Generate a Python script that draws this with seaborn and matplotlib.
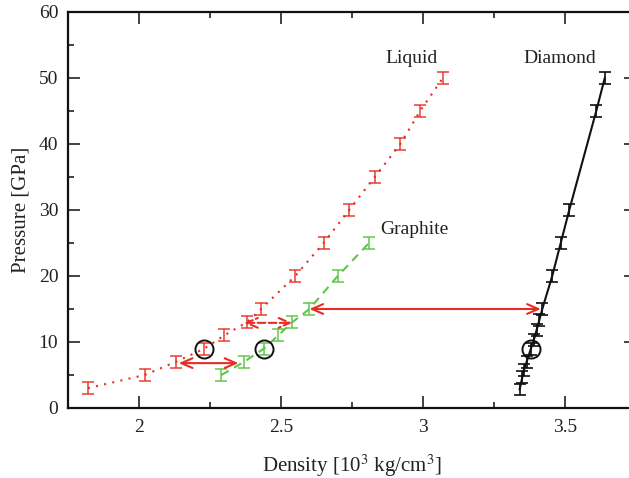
import matplotlib
matplotlib.use("Agg")
import matplotlib.pyplot as plt
import seaborn as sns
import pandas as pd
from matplotlib.ticker import MultipleLocator

# ---- data ----
liquid_density = [1.82, 2.02, 2.13, 2.23, 2.30, 2.38, 2.43, 2.55, 2.65, 2.74, 2.83, 2.92, 2.99, 3.07]
liquid_pressure = [3, 5, 7, 9, 11, 13, 15, 20, 25, 30, 35, 40, 45, 50]

graphite_density = [2.29, 2.37, 2.44, 2.49, 2.54, 2.60, 2.70, 2.81]
graphite_pressure = [5, 7, 9, 11, 13, 15, 20, 25]

diamond_density = [3.34, 3.35, 3.355, 3.365, 3.38, 3.39, 3.40, 3.41, 3.42, 3.455, 3.485, 3.515, 3.61, 3.64]
diamond_pressure = [2.8, 4.7, 5.7, 7.0, 9, 10.3, 11.8, 13.4, 15, 20, 25, 30, 45, 50]

pressure_err = 0.9

circle_density = [2.23, 2.44, 3.38]
circle_pressure = [9, 9, 9]

arrow_x0 = [2.14, 2.37, 2.60]
arrow_x1 = [2.35, 2.54, 3.415]
arrow_y = [6.8, 12.9, 15.0]
arrow_styles = ["solid", "dashed", "solid"]

labels = ["Liquid", "Diamond", "Graphite"]
label_x = [2.96, 3.48, 2.97]
label_y = [53.0, 53.0, 27.0]

RED = "#e62e24"
GREEN = "#5ec64a"
BLACK = "#111111"

sns.set_style("ticks")
plt.rcParams["font.family"] = ["Liberation Serif", "DejaVu Serif"]
plt.rcParams["mathtext.fontset"] = "stix"

fig = plt.figure(figsize=(6.29, 4.78), dpi=100)
W, H = 629, 478
ax = fig.add_axes([68 / W, 1 - 408 / H, (636 - 68) / W, (408 - 12) / H])

series = [
    (liquid_density, liquid_pressure, RED, (0, (1, 3)), 0.85),
    (graphite_density, graphite_pressure, GREEN, (0, (4, 3)), 0.9),
    (diamond_density, diamond_pressure, BLACK, "-", 1.0),
]
for dens, pres, col, ls, a in series:
    df = pd.DataFrame({"density": dens, "pressure": pres})
    sns.lineplot(data=df, x="density", y="pressure", ax=ax, color=col,
                 linestyle=ls, linewidth=1.5, sort=False, estimator=None)
    ax.errorbar(dens, pres, yerr=pressure_err, fmt="none", ecolor=col,
                elinewidth=1.2, capsize=4, capthick=1.2, alpha=a)

ax.plot(circle_density, circle_pressure, "o", markersize=13, markerfacecolor="none",
        markeredgecolor=BLACK, markeredgewidth=1.4)

for x0, x1, y, st in zip(arrow_x0, arrow_x1, arrow_y, arrow_styles):
    ax.annotate("", xy=(x1, y), xytext=(x0, y),
                arrowprops=dict(arrowstyle="<->,head_length=0.8,head_width=0.35",
                                color=RED, lw=1.5, linestyle=st,
                                shrinkA=0, shrinkB=0))

for t, x, y in zip(labels, label_x, label_y):
    ax.text(x, y, t, ha="center", va="center", fontsize=14, color="#222222")

ax.set_xlim(1.75, 3.75)
ax.set_ylim(0, 60)
ax.xaxis.set_minor_locator(MultipleLocator(0.25))
ax.yaxis.set_minor_locator(MultipleLocator(5))
ax.set_xticks([2, 2.5, 3, 3.5])
ax.set_xticklabels(["2", "2.5", "3", "3.5"])
ax.set_yticks([0, 10, 20, 30, 40, 50, 60])
ax.tick_params(which="both", direction="in", top=True, right=True, width=1.2,
               labelsize=14, colors="#222222")
ax.tick_params(which="major", length=8.5)
ax.tick_params(which="minor", length=4)
ax.tick_params(axis="y", pad=7)
ax.tick_params(axis="x", pad=8)
for s in ax.spines.values():
    s.set_visible(True)
    s.set_linewidth(1.6)
    s.set_color("#111111")

ax.set_xlabel(r"Density [10$^3$ kg/cm$^3$]", fontsize=15, color="#222222", labelpad=12)
ax.set_ylabel("Pressure [GPa]", fontsize=15, color="#222222", labelpad=6)

fig.savefig("out.png", dpi=100)
